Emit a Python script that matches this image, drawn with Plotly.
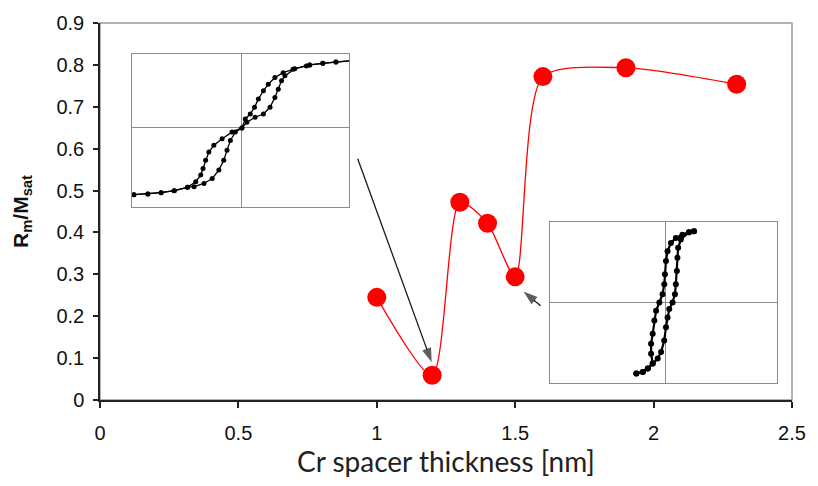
import plotly.graph_objects as go

# Main series: remanence ratio vs Cr spacer thickness
thickness_nm = [1.0, 1.2, 1.3, 1.4, 1.5, 1.6, 1.9, 2.3]
rm_over_msat = [0.245, 0.059, 0.472, 0.422, 0.294, 0.772, 0.793, 0.754]

x_ticks = [0, 0.5, 1, 1.5, 2, 2.5]
x_tick_text = ["0", "0.5", "1", "1.5", "2", "2.5"]
y_ticks = [0, 0.1, 0.2, 0.3, 0.4, 0.5, 0.6, 0.7, 0.8, 0.9]
y_tick_text = ["0", "0.1", "0.2", "0.3", "0.4", "0.5", "0.6", "0.7", "0.8", "0.9"]

# Inset loop at 1.2 nm (normalised field H, normalised moment M)
loopA_desc_h = [-0.994, -0.866, -0.744, -0.623, -0.501, -0.425, -0.379, -0.358, -0.334, -0.304,
                -0.258, -0.182, -0.091, 0.0, 0.031, 0.077, 0.116, 0.152, 0.198, 0.243,
                0.304, 0.380, 0.471, 0.593, 0.624, 0.745, 0.866, 0.994]
loopA_desc_m = [-0.869, -0.860, -0.843, -0.817, -0.774, -0.701, -0.614, -0.529, -0.420, -0.313,
                -0.226, -0.141, -0.054, 0.0, 0.118, 0.182, 0.269, 0.376, 0.485, 0.570,
                0.657, 0.721, 0.764, 0.808, 0.821, 0.842, 0.860, 0.873]
loopA_asc_h = [-0.994, -0.866, -0.744, -0.623, -0.501, -0.440, -0.349, -0.273, -0.212, -0.167,
               -0.137, -0.106, -0.060, 0.0, 0.046, 0.122, 0.198, 0.259, 0.304, 0.335,
               0.365, 0.396, 0.487, 0.624, 0.745, 0.866, 0.994]
loopA_asc_m = [-0.869, -0.860, -0.843, -0.817, -0.774, -0.765, -0.723, -0.658, -0.549, -0.420,
               -0.291, -0.162, -0.054, 0.0, 0.075, 0.140, 0.182, 0.269, 0.398, 0.505,
               0.614, 0.679, 0.773, 0.821, 0.842, 0.860, 0.873]

# Inset loop at 1.5 nm
loopB_desc_h = [-0.255, -0.198, -0.154, -0.111, -0.125, -0.125, -0.111, -0.096, -0.081, -0.052,
                -0.024, -0.009, -0.003, 0.006, 0.020, 0.050, 0.093, 0.151, 0.209, 0.253]
loopB_desc_m = [-0.881, -0.861, -0.819, -0.758, -0.635, -0.512, -0.389, -0.225, -0.102, 0.0,
                0.103, 0.226, 0.349, 0.513, 0.636, 0.738, 0.800, 0.841, 0.870, 0.882]
loopB_asc_h = [-0.255, -0.198, -0.154, -0.111, -0.067, -0.037, -0.009, 0.006, 0.020, 0.035,
               0.064, 0.085, 0.093, 0.102, 0.107, 0.113, 0.137, 0.209, 0.253]
loopB_asc_m = [-0.881, -0.861, -0.819, -0.758, -0.696, -0.615, -0.471, -0.308, -0.185, -0.081,
               0.0, 0.103, 0.226, 0.391, 0.554, 0.677, 0.780, 0.870, 0.882]

fig = go.Figure()

fig.add_trace(go.Scatter(
    x=thickness_nm, y=rm_over_msat, mode="lines+markers",
    line=dict(color="#ff0000", width=1.3, shape="spline", smoothing=0.7),
    marker=dict(color="#ff0000", size=19, line=dict(width=0)),
    showlegend=False, cliponaxis=False,
))

# Pointer arrows from each inset to its data point
arrow_style = dict(mode="lines+markers", line=dict(color="#1a1a1a", width=1.3),
                   marker=dict(symbol="arrow", angleref="previous", size=[0, 15],
                               color="#1a1a1a", line=dict(width=0)),
                   showlegend=False, cliponaxis=False, hoverinfo="skip")
fig.add_trace(go.Scatter(x=[0.931, 1.198], y=[0.576, 0.090], **arrow_style))
fig.add_trace(go.Scatter(x=[1.592, 1.530], y=[0.225, 0.259], **arrow_style))

loop_style_a = dict(mode="lines+markers", line=dict(color="black", width=1.3),
                    marker=dict(color="black", size=5), showlegend=False, cliponaxis=False)
loop_style_b = dict(mode="lines+markers", line=dict(color="black", width=2.2),
                    marker=dict(color="black", size=6), showlegend=False, cliponaxis=False)
for h, m in [(loopA_desc_h, loopA_desc_m), (loopA_asc_h, loopA_asc_m)]:
    fig.add_trace(go.Scatter(x=h, y=m, xaxis="x2", yaxis="y2", **loop_style_a))
for h, m in [(loopB_desc_h, loopB_desc_m), (loopB_asc_h, loopB_asc_m)]:
    fig.add_trace(go.Scatter(x=h, y=m, xaxis="x3", yaxis="y3", **loop_style_b))

tick_font = dict(family="Liberation Sans, Arial, sans-serif", size=20, color="#111111")

inset_axis = dict(showline=True, mirror=True, linecolor="#8c8c8c", linewidth=1.3,
                  showgrid=False, zeroline=True, zerolinecolor="#8c8c8c", zerolinewidth=1.3,
                  showticklabels=False, ticks="", fixedrange=True)

fig.update_layout(
    width=818, height=486,
    margin=dict(l=100, r=19, t=20, b=86),
    paper_bgcolor="white", plot_bgcolor="white",
    xaxis=dict(range=[0, 2.5], tickvals=x_ticks, ticktext=x_tick_text,
               showline=True, linecolor="#222222", linewidth=1.5,
               ticks="outside", ticklen=6, tickcolor="#222222", tickwidth=1.5,
               showgrid=False, zeroline=False, tickfont=tick_font,
               ticklabelstandoff=8,
               title=dict(text="Cr spacer thickness [nm]",
                          font=dict(family="Lato, sans-serif", size=28, color="#222222"),
                          standoff=10)),
    yaxis=dict(range=[0, 0.9], tickvals=y_ticks, ticktext=y_tick_text,
               showline=True, linecolor="#222222", linewidth=1.5,
               ticks="outside", ticklen=5, tickcolor="#222222", tickwidth=1.5,
               showgrid=False, zeroline=False, tickfont=tick_font,
               ticklabelstandoff=5,
               title=dict(text="<b>R<sub>m</sub>/M<sub>sat</sub></b>",
                          font=dict(family="Liberation Sans, Arial, sans-serif", size=21,
                                    color="#111111"),
                          standoff=22)),
    xaxis2=dict(domain=[0.0462, 0.3601], range=[-1.012, 0.988], anchor="y2", **inset_axis),
    yaxis2=dict(domain=[0.5113, 0.9184], range=[-1.033, 0.967], anchor="x2", **inset_axis),
    xaxis3=dict(domain=[0.651, 0.979], range=[-1.011, 0.988], anchor="y3", **inset_axis),
    yaxis3=dict(domain=[0.0439, 0.4718], range=[-1.004, 0.996], anchor="x3", **inset_axis),
    shapes=[dict(type="rect", xref="paper", yref="paper", x0=0, y0=0, x1=1, y1=1,
                 line=dict(color="#9a9a9a", width=1.5), layer="below")],
)

fig.write_html("out.html")
